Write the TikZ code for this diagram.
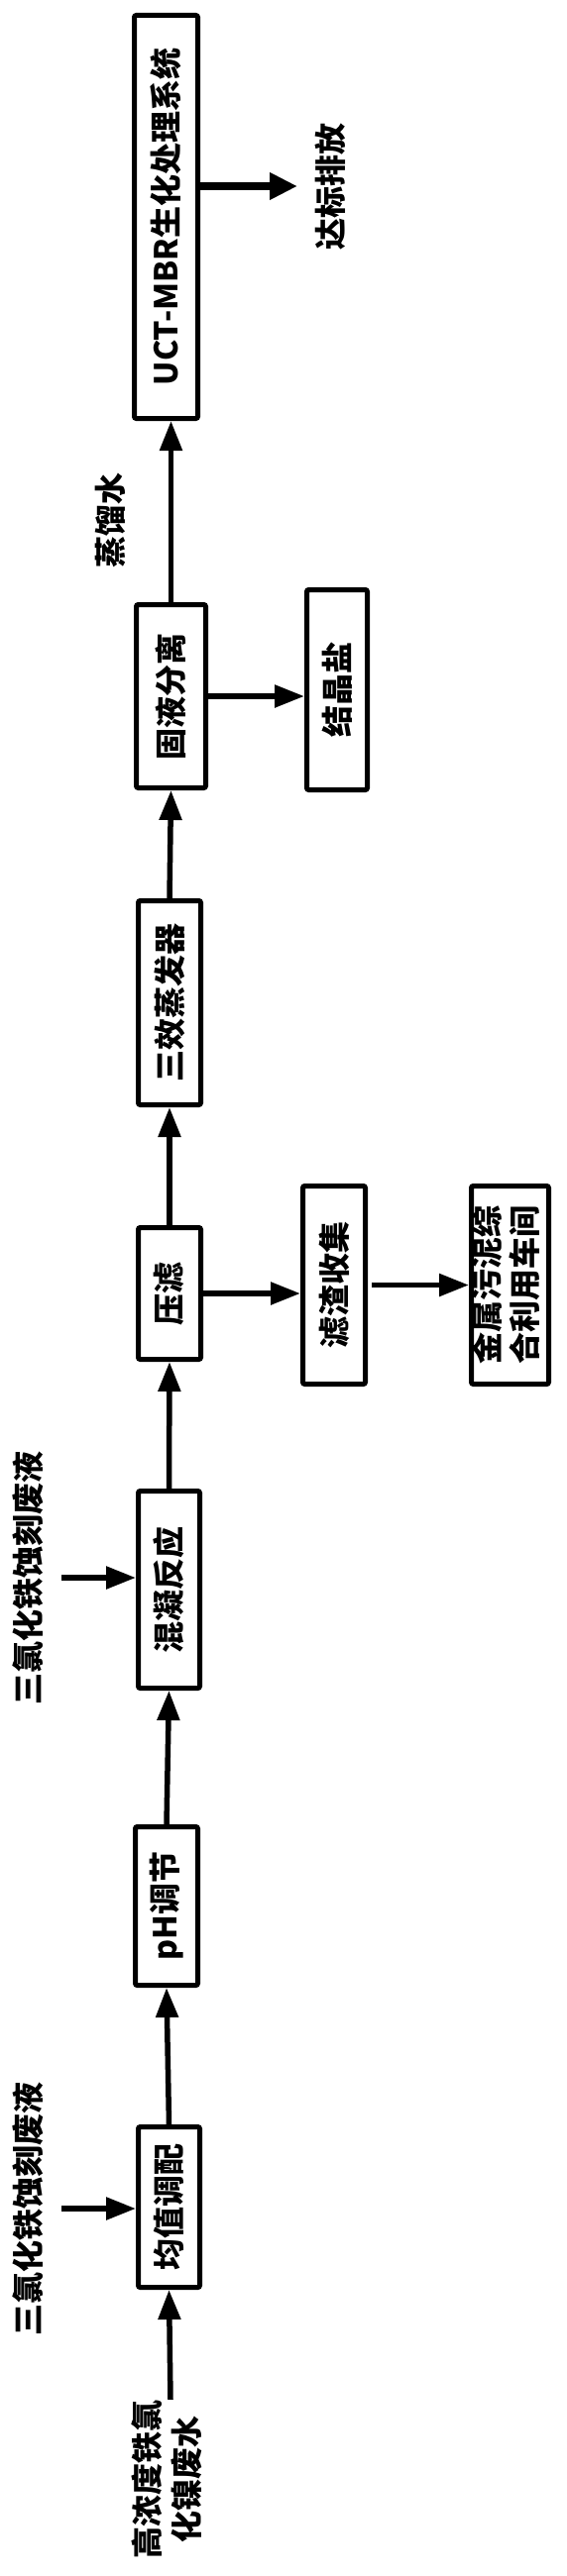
\documentclass[tikz,border=0pt]{standalone}
\usepackage{fontspec}
\setmainfont{Noto Sans CJK SC}
\usetikzlibrary{arrows.meta}
\begin{document}
\begin{tikzpicture}[x=1pt,y=-1pt,
  box/.style={draw,line width=5pt,rounded corners=2pt,inner sep=0pt,align=center,font=\bfseries\fontsize{32}{40}\selectfont},
  lbl/.style={inner sep=0pt,align=center,font=\bfseries\fontsize{32}{40}\selectfont},
  arr/.style={line width=5.5pt,-{Triangle[length=30pt,width=22pt]}},
  thickarr/.style={line width=7.5pt,-{Triangle[length=28pt,width=26pt]}}]
\useasboundingbox (0,0) rectangle (571,2601);
% boxes
\node[box,minimum width=64pt,minimum height=407pt] (uct) at (167.5,219) {\rotatebox{90}{UCT-MBR生化处理系统}};
\node[box,minimum width=70pt,minimum height=185pt] (gy) at (172.5,703) {\rotatebox{90}{固液分离}};
\node[box,minimum width=61pt,minimum height=202pt] (jj) at (340,696.5) {\rotatebox{90}{结晶盐}};
\node[box,minimum width=63pt,minimum height=206pt] (sx) at (171,1012.5) {\rotatebox{90}{三效蒸发器}};
\node[box,minimum width=63pt,minimum height=133pt] (yl) at (171,1306) {\rotatebox{90}{压滤}};
\node[box,minimum width=63pt,minimum height=200pt] (lz) at (337,1297.5) {\rotatebox{90}{滤渣收集}};
\node[box,minimum width=78pt,minimum height=200pt] (js) at (514.5,1297.5) {\rotatebox{90}{\begin{tabular}{@{}c@{}}金属污泥综\\[-2pt]合利用车间\end{tabular}}};
\node[box,minimum width=62pt,minimum height=199pt] (hn) at (170.5,1605) {\rotatebox{90}{混凝反应}};
\node[box,minimum width=63pt,minimum height=160pt] (ph) at (168,1924.5) {\rotatebox{90}{pH调节}};
\node[box,minimum width=62pt,minimum height=162pt] (jz) at (170.5,2228.5) {\rotatebox{90}{均值调配}};
% labels
\node[lbl] (out) at (333,188) {\rotatebox{90}{达标排放}};
\node[lbl] (zl) at (111,525) {\rotatebox{90}{蒸馏水}};
\node[lbl] (fe2) at (28,1593) {\rotatebox{90}{三氯化铁蚀刻废液}};
\node[lbl] (fe1) at (28,2230) {\rotatebox{90}{三氯化铁蚀刻废液}};
\node[lbl] (src) at (172,2503) {\rotatebox{90}{\begin{tabular}{@{}c@{}}高浓度铁氯\\化镍废水\end{tabular}}};
% coordinates for free ends
\coordinate (a1) at (62,2230);
\coordinate (a2) at (62,1593);
\coordinate (o1) at (300,188);
% connectors
\draw[arr] (src.north) -- (jz.south);
\draw[arr] (a1) -- (a1 -| jz.west);
\draw[arr] (jz.north) -- (ph.south);
\draw[arr] (ph.north) -- (hn.south);
\draw[arr] (a2) -- (a2 -| hn.west);
\draw[arr] (hn.north) -- (yl.south);
\draw[arr] (yl.east) -- (yl.east -| lz.west);
\draw[arr] ([xshift=4pt]lz.east) -- (lz.east -| js.west);
\draw[arr] (yl.north) -- (sx.south);
\draw[arr] (sx.north) -- (gy.south);
\draw[arr] (gy.east) -- (gy.east -| jj.west);
\draw[arr] (gy.north) -- (gy.north |- uct.south);
\draw[thickarr] (uct.east |- o1) -- (o1);
\end{tikzpicture}
\end{document}
